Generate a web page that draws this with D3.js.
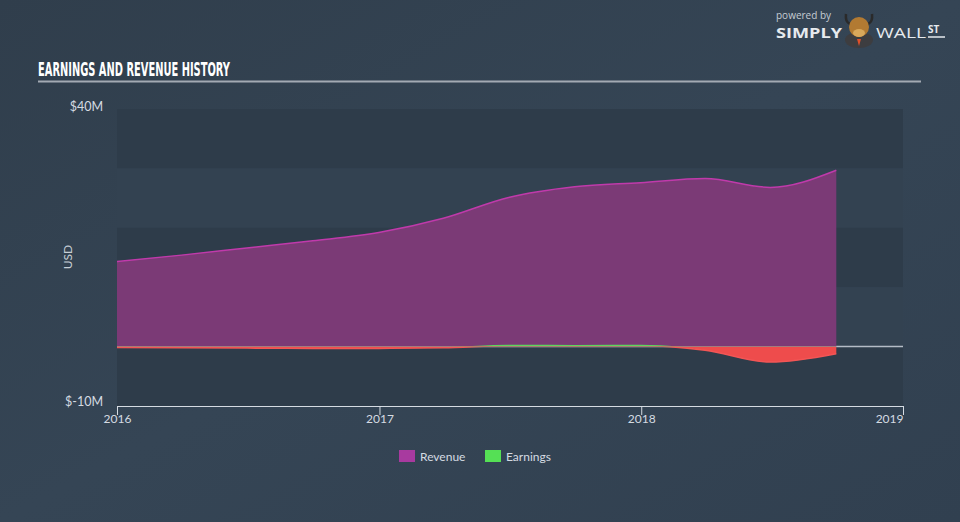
<!DOCTYPE html>
<html>
<head>
<meta charset="utf-8">
<script src="https://cdn.jsdelivr.net/npm/d3@7"></script>
<style>
html,body{margin:0;padding:0;background:#334251;}
svg{display:block;}
</style>
</head>
<body>
<svg id="chart" width="960" height="522"></svg>
<script>
// ---- data ----
const dates = ["2015-12-31","2016-03-31","2016-06-30","2016-09-30","2016-12-31","2017-03-31","2017-06-30","2017-09-30","2017-12-31","2018-03-31","2018-06-30","2018-09-30"];
const revenue = [14.3, 15.4, 16.6, 17.8, 19.2, 21.6, 25.1, 26.9, 27.6, 28.3, 26.8, 29.7];
const earnings = [-0.15, -0.2, -0.25, -0.3, -0.3, -0.2, 0.2, 0.15, 0.2, -0.6, -2.6, -1.2];
const yearTicks = ["2016","2017","2018","2019"];
const yTickValues = [40, -10];
const yTickLabels = ["$40M", "$-10M"];
const bandEdges = [40, 30, 20, 10, 0, -10];
const legendItems = ["Revenue", "Earnings"];

const W = 960, H = 522;
const svg = d3.select("#chart");
const parse = d3.timeParse("%Y-%m-%d");
const data = dates.map((d, i) => ({date: parse(d), rev: revenue[i], earn: earnings[i]}));

const pLeft = 117, pRight = 903, pTop = 109, pBottom = 406;
const x = d3.scaleTime().domain([new Date(2016,0,1), new Date(2019,0,1)]).range([pLeft, pRight]);
const y = d3.scaleLinear().domain([-10, 40]).range([pBottom, pTop]);

// background gradient
const defs = svg.append("defs");
const bg = defs.append("linearGradient").attr("id","bg").attr("x1","0").attr("y1","0").attr("x2","1").attr("y2","1");
bg.append("stop").attr("offset","0%").attr("stop-color","#303e4c");
bg.append("stop").attr("offset","50%").attr("stop-color","#354555");
bg.append("stop").attr("offset","100%").attr("stop-color","#314050");
svg.append("rect").attr("width",W).attr("height",H).attr("fill","url(#bg)");

// plot bands
for (let i = 0; i < bandEdges.length - 1; i++) {
  svg.append("rect")
    .attr("x", pLeft).attr("width", pRight - pLeft)
    .attr("y", y(bandEdges[i])).attr("height", y(bandEdges[i+1]) - y(bandEdges[i]))
    .attr("fill", i % 2 === 0 ? "#2e3c4a" : "#334251");
}

defs.append("clipPath").attr("id","plotClip").append("rect")
  .attr("x", pLeft).attr("y", pTop - 5).attr("width", pRight - pLeft).attr("height", pBottom - pTop + 5);
defs.append("clipPath").attr("id","posClip").append("rect")
  .attr("x", pLeft).attr("y", pTop - 5).attr("width", pRight - pLeft).attr("height", y(0) - pTop + 5);
defs.append("clipPath").attr("id","negClip").append("rect")
  .attr("x", pLeft).attr("y", y(0)).attr("width", pRight - pLeft).attr("height", pBottom - y(0));

// zero line
svg.append("line").attr("x1", pLeft).attr("x2", pRight).attr("y1", y(0)).attr("y2", y(0))
  .attr("stroke", "#b4bcc6").attr("stroke-width", 1.5);

const g = svg.append("g").attr("clip-path","url(#plotClip)");
const curve = d3.curveMonotoneX;

// revenue area
g.append("path").datum(data)
  .attr("d", d3.area().x(d => x(d.date)).y0(y(0)).y1(d => y(d.rev)).curve(curve))
  .attr("fill", "#7b3a76");
g.append("path").datum(data)
  .attr("d", d3.line().x(d => x(d.date)).y(d => y(d.rev)).curve(curve))
  .attr("fill", "none").attr("stroke", "#c03aab").attr("stroke-width", 1.5);

// earnings area
const eArea = d3.area().x(d => x(d.date)).y0(y(0)).y1(d => y(d.earn)).curve(curve);
const eLine = d3.line().x(d => x(d.date)).y(d => y(d.earn)).curve(curve);
const gp = g.append("g").attr("clip-path","url(#posClip)");
gp.append("path").datum(data).attr("d", eArea).attr("fill", "#55c85a").attr("opacity", 0.85);
gp.append("path").datum(data).attr("d", eLine).attr("fill","none").attr("stroke","#5cd65c").attr("stroke-width",1.5);
const gn = g.append("g").attr("clip-path","url(#negClip)");
gn.append("path").datum(data).attr("d", eArea).attr("fill", "#ee4c4c");
gn.append("path").datum(data).attr("d", eLine).attr("fill","none").attr("stroke","#f25555").attr("stroke-width",1.5);

// x axis
const xAxis = d3.axisBottom(x)
  .tickValues(yearTicks.map(t => new Date(+t, 0, 1)))
  .tickFormat(d3.timeFormat("%Y"))
  .tickSize(9).tickSizeOuter(0);
const ax = svg.append("g").attr("transform", `translate(0,${pBottom})`).call(xAxis);
ax.select(".domain").attr("stroke", "#d5dbe2").attr("stroke-width", 1);
ax.selectAll(".tick line").attr("stroke", "#d5dbe2");
ax.selectAll(".tick text")
  .attr("fill", "#d5dbe2").attr("font-family", "Lato, 'Open Sans', sans-serif").attr("font-size", 12)
  .attr("dy", "0.55em").attr("y", 10)
  .attr("text-anchor", (d, i) => i === yearTicks.length - 1 ? "end" : "middle");

// y labels
const yAxis = d3.axisLeft(y).tickValues(yTickValues).tickFormat((d, i) => yTickLabels[i]).tickSize(0);
const ay = svg.append("g").attr("transform", `translate(103,0)`).call(yAxis);
ay.select(".domain").remove();
ay.selectAll(".tick text").attr("fill", "#d5dbe2").attr("font-family", "Lato, 'Open Sans', sans-serif")
  .attr("font-size", 12.5).attr("x", 0)
  .attr("dy", (d) => d === 40 ? "0.15em" : "-0.05em");

svg.append("text").attr("transform", "translate(72,257) rotate(-90)")
  .attr("text-anchor", "middle").attr("fill", "#c8cfd6")
  .attr("font-family", "Lato, 'Open Sans', sans-serif").attr("font-size", 12).text("USD");

// title
svg.append("text").attr("x", 38).attr("y", 76)
  .attr("fill", "#ffffff").attr("font-family", "'Liberation Sans Narrow', 'DejaVu Sans Condensed', sans-serif")
  .attr("font-weight", "bold").attr("font-size", 20)
  .attr("textLength", 192).attr("lengthAdjust", "spacingAndGlyphs")
  .text("EARNINGS AND REVENUE HISTORY");
svg.append("line").attr("x1", 38).attr("x2", 921).attr("y1", 81.5).attr("y2", 81.5)
  .attr("stroke", "#a3aab3").attr("stroke-width", 2);

// legend
const legColors = ["#a83a9f", "#55e055"];
const legX = [399, 485];
legendItems.forEach((name, i) => {
  svg.append("rect").attr("x", legX[i]).attr("y", 450).attr("width", 16).attr("height", 12).attr("fill", legColors[i]);
  svg.append("text").attr("x", legX[i] + 21).attr("y", 460.5)
    .attr("fill", "#d5dbe2").attr("font-family", "Lato, 'Open Sans', sans-serif").attr("font-size", 12)
    .text(name);
});

// logo
const logo = svg.append("g");
logo.append("text").attr("x", 776).attr("y", 18.5).attr("fill", "#c5ccd3")
  .attr("font-family", "'Open Sans', sans-serif").attr("font-size", 10).text("powered by");
logo.append("text").attr("x", 776).attr("y", 38).attr("fill", "#e6eaee")
  .attr("font-family", "'Open Sans', sans-serif").attr("font-weight", "bold").attr("font-size", 14)
  .attr("textLength", 66).attr("lengthAdjust","spacingAndGlyphs").text("SIMPLY");
// bull head
logo.append("ellipse").attr("cx", 859).attr("cy", 40).attr("rx", 14).attr("ry", 8).attr("fill", "#3d3d40");
logo.append("path").attr("d", "M846,14 Q845,22 850,24 M872,14 Q873,22 868,24").attr("stroke","#2a2a2a").attr("stroke-width",2.5).attr("fill","none");
logo.append("ellipse").attr("cx", 859).attr("cy", 27).attr("rx", 10).attr("ry", 10).attr("fill", "#b27a32");
logo.append("ellipse").attr("cx", 859).attr("cy", 33).attr("rx", 6).attr("ry", 4).attr("fill", "#d9a85b");
logo.append("path").attr("d", "M857,39 L861,39 L859,46 Z").attr("fill", "#e0502a");
logo.append("text").attr("x", 876).attr("y", 38).attr("fill", "#e6eaee")
  .attr("font-family", "'Open Sans', sans-serif").attr("font-size", 14)
  .attr("textLength", 50).attr("lengthAdjust","spacingAndGlyphs").text("WALL");
logo.append("text").attr("x", 928).attr("y", 33).attr("fill", "#e6eaee")
  .attr("font-family", "'Open Sans', sans-serif").attr("font-weight","bold").attr("font-size", 10).text("ST");
logo.append("line").attr("x1", 928).attr("x2", 945).attr("y1", 37).attr("y2", 37).attr("stroke", "#e6eaee").attr("stroke-width", 1.5);
</script>
</body>
</html>
